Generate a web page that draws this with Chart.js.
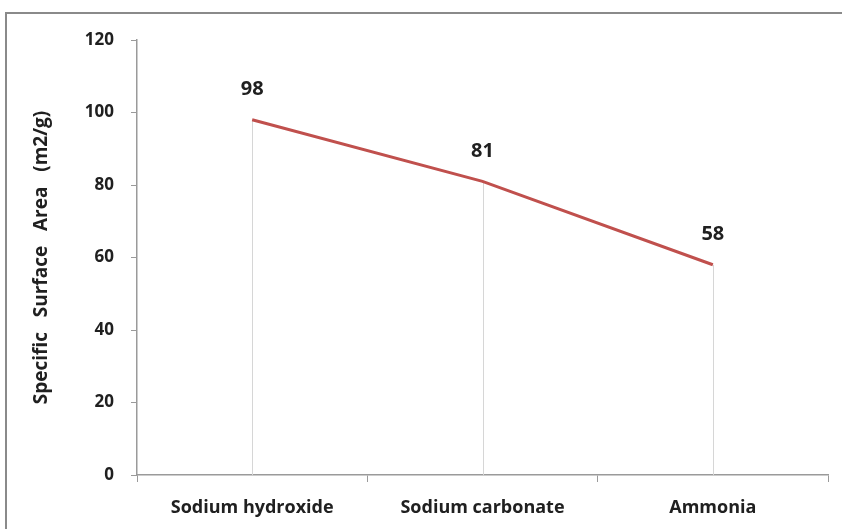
<!DOCTYPE html>
<html>
<head>
<meta charset="utf-8">
<script src="https://cdn.jsdelivr.net/npm/chart.js@4/dist/chart.umd.min.js"></script>
<style>
  html, body { margin: 0; padding: 0; background: #fff; }
  #wrap { position: relative; width: 842px; height: 529px; overflow: hidden; }
  #frame { position: absolute; left: 5px; top: 12px; width: 900px; height: 600px;
           border-top: 2px solid #8a8a8a; border-left: 2px solid #8a8a8a; box-sizing: border-box; }
  canvas { position: absolute; left: 0; top: 0; }
</style>
</head>
<body>
<div id="wrap">
  <div id="frame"></div>
  <canvas id="c" width="842" height="529"></canvas>
</div>
<script>
const categories = ['Sodium hydroxide', 'Sodium carbonate', 'Ammonia'];
const surfaceArea = [98, 81, 58];
const yTicks = [0, 20, 40, 60, 80, 100, 120];

const FONT = "'Open Sans', 'DejaVu Sans', sans-serif";
const TEXT = '#202020';
const AXIS = '#9a9a9a';

// Thin vertical lines from each point down to the category axis
const dropLines = {
  id: 'dropLines',
  beforeDatasetsDraw(chart) {
    const { ctx, scales: { x, y } } = chart;
    ctx.save();
    ctx.strokeStyle = '#d6d6d6';
    ctx.lineWidth = 1;
    surfaceArea.forEach((v, i) => {
      const px = Math.round(x.getPixelForValue(i)) + 0.5;
      ctx.beginPath();
      ctx.moveTo(px, y.getPixelForValue(v));
      ctx.lineTo(px, y.getPixelForValue(0));
      ctx.stroke();
    });
    ctx.restore();
  }
};

// Value labels above each point
const valueLabels = {
  id: 'valueLabels',
  afterDatasetsDraw(chart) {
    const { ctx, scales: { x, y } } = chart;
    ctx.save();
    ctx.fillStyle = TEXT;
    ctx.font = `700 20px ${FONT}`;
    ctx.textAlign = 'center';
    ctx.textBaseline = 'middle';
    surfaceArea.forEach((v, i) => {
      ctx.fillText(String(v), x.getPixelForValue(i), y.getPixelForValue(v) - 30);
    });
    ctx.restore();
  }
};

new Chart(document.getElementById('c'), {
  type: 'line',
  data: {
    labels: categories,
    datasets: [{
      data: surfaceArea,
      borderColor: '#c0504d',
      borderWidth: 3,
      pointRadius: 0,
      tension: 0,
      fill: false
    }]
  },
  options: {
    responsive: false,
    animation: false,
    layout: { padding: { left: 0, right: 14, top: 40, bottom: 0 } },
    plugins: { legend: { display: false }, tooltip: { enabled: false } },
    scales: {
      x: {
        offset: true,
        grid: { offset: true, drawOnChartArea: false, drawTicks: true, tickLength: 7, color: AXIS },
        border: { color: AXIS, width: 1.5 },
        ticks: { color: TEXT, font: { family: FONT, size: 18, weight: '700' }, padding: 15, maxRotation: 0 },
        afterFit(s) { s.height = 54; }
      },
      y: {
        min: 0, max: 120,
        afterBuildTicks(s) { s.ticks = yTicks.map(v => ({ value: v })); },
        grid: { drawOnChartArea: false, drawTicks: true, tickLength: 6, color: AXIS },
        border: { color: AXIS, width: 1.5 },
        ticks: { color: TEXT, font: { family: FONT, size: 17, weight: '700' }, padding: 17 },
        title: {
          display: true,
          text: 'Specific   Surface   Area   (m2/g)',
          color: TEXT,
          font: { family: FONT, size: 19, weight: '700' },
          padding: { top: 30, bottom: 0 }
        },
        afterFit(s) { s.width = 137; }
      }
    }
  },
  plugins: [dropLines, valueLabels]
});
</script>
</body>
</html>
